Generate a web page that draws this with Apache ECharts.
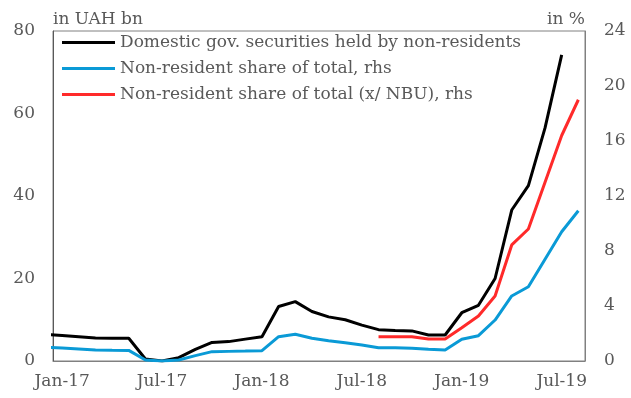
<!DOCTYPE html>
<html>
<head>
<meta charset="utf-8">
<script src="https://cdn.jsdelivr.net/npm/echarts@6/dist/echarts.min.js"></script>
<style>
  html, body { margin: 0; padding: 0; background: #fff; }
  #main { width: 631px; height: 398px; }
</style>
</head>
<body>
<div id="main"></div>
<script>
// months, Dec-16 is index -1 (clipped by the axis), Jan-17 is 0
var months = ['Dec-16','Jan-17','Feb-17','Mar-17','Apr-17','May-17','Jun-17','Jul-17','Aug-17','Sep-17','Oct-17','Nov-17','Dec-17',
    'Jan-18','Feb-18','Mar-18','Apr-18','May-18','Jun-18','Jul-18','Aug-18','Sep-18','Oct-18','Nov-18','Dec-18',
    'Jan-19','Feb-19','Mar-19','Apr-19','May-19','Jun-19','Jul-19','Aug-19'];
var tickLabels = ['Jan-17','Jul-17','Jan-18','Jul-18','Jan-19','Jul-19'];

// UAH bn, lhs
var holdings = [6.4, 6.2, 5.9, 5.6, 5.5, 5.5, 0.5, 0.0, 0.8, 2.8, 4.5, 4.7, 5.3,
    5.9, 13.2, 14.4, 12.0, 10.7, 10.0, 8.7, 7.6, 7.4, 7.3, 6.3, 6.3,
    11.7, 13.5, 20.0, 36.6, 42.5, 56.5, 74.2, null];
// in %, rhs
var share = [1.0, 0.95, 0.88, 0.8, 0.78, 0.77, 0.07, 0.0, 0.07, 0.39, 0.68, 0.7, 0.72,
    0.75, 1.77, 1.94, 1.65, 1.48, 1.33, 1.16, 0.97, 0.96, 0.92, 0.85, 0.8,
    1.58, 1.84, 2.98, 4.73, 5.4, 7.4, 9.4, 10.93];
var shareExNbu = [null, null, null, null, null, null, null, null, null, null, null, null, null,
    null, null, null, null, null, null, null, 1.77, 1.77, 1.77, 1.6, 1.6,
    2.42, 3.27, 4.73, 8.44, 9.6, 13.0, 16.4, 19.0];

function toPoints(arr) {
    return arr.map(function (v, i) { return [i - 1, v]; });
}

var font = 'DejaVu Serif';
var grey = '#595959';

var myChart = echarts.init(document.getElementById('main'));
myChart.setOption({
    animation: false,
    textStyle: { fontFamily: font },
    grid: {
        left: 53, right: 46, top: 31, bottom: 37,
        show: true, borderColor: '#808080', borderWidth: 1
    },
    legend: {
        orient: 'vertical',
        left: 62, top: 34,
        padding: 0,
        itemWidth: 53, itemHeight: 3, itemGap: 9,
        icon: 'rect',
        textStyle: { fontFamily: font, fontSize: 17, color: grey },
        data: ['Domestic gov. securities held by non-residents',
            'Non-resident share of total, rhs',
            'Non-resident share of total (x/ NBU), rhs']
    },
    xAxis: {
        type: 'value',
        min: -0.55, max: 31.4,
        splitLine: { show: false },
        axisLine: { lineStyle: { color: '#808080' } },
        axisTick: { show: false },
        axisLabel: {
            customValues: [0, 6, 12, 18, 24, 30],
            formatter: function (v) { return tickLabels[Math.round(v / 6)]; },
            color: grey, fontSize: 17, margin: 12
        }
    },
    yAxis: [
        {
            type: 'value', min: 0, max: 80, interval: 20,
            name: 'in UAH bn', nameLocation: 'end', nameGap: 3,
            nameTextStyle: { align: 'left', color: grey, fontSize: 17 },
            splitLine: { show: false },
            axisLine: { show: true, onZero: false, lineStyle: { color: '#595959' } },
            axisTick: { show: false },
            axisLabel: { color: grey, fontSize: 17, margin: 18 }
        },
        {
            type: 'value', min: 0, max: 24, interval: 4,
            name: 'in %', nameLocation: 'end', nameGap: 3,
            nameTextStyle: { align: 'right', color: grey, fontSize: 17 },
            splitLine: { show: false },
            axisLine: { show: true, onZero: false, lineStyle: { color: '#808080' } },
            axisTick: { show: false },
            axisLabel: { color: grey, fontSize: 17, margin: 19 }
        }
    ],
    series: [
        {
            name: 'Domestic gov. securities held by non-residents',
            type: 'line', yAxisIndex: 0, showSymbol: false, clip: true,
            itemStyle: { color: '#000000' },
            lineStyle: { color: '#000000', width: 3 },
            data: toPoints(holdings)
        },
        {
            name: 'Non-resident share of total, rhs',
            type: 'line', yAxisIndex: 1, showSymbol: false, clip: true,
            itemStyle: { color: '#0a9ad6' },
            lineStyle: { color: '#0a9ad6', width: 3 },
            data: toPoints(share)
        },
        {
            name: 'Non-resident share of total (x/ NBU), rhs',
            type: 'line', yAxisIndex: 1, showSymbol: false, clip: true,
            itemStyle: { color: '#ff2a2a' },
            lineStyle: { color: '#ff2a2a', width: 3 },
            data: toPoints(shareExNbu)
        }
    ]
});
</script>
</body>
</html>
